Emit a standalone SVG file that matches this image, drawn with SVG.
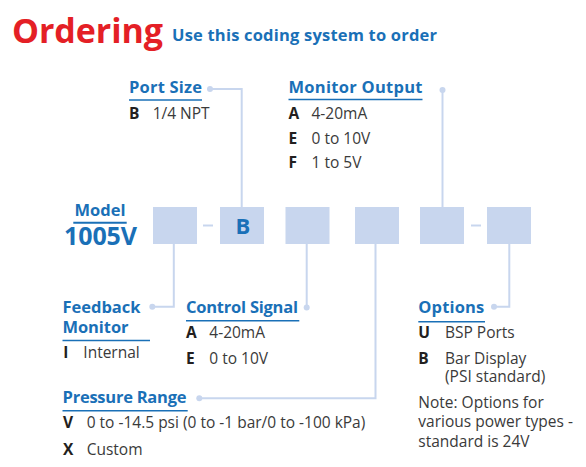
<svg xmlns="http://www.w3.org/2000/svg" width="586" height="467" viewBox="0 0 586 467">
<style>
text{font-family:"Open Sans","DejaVu Sans",sans-serif}
.h{font-size:16.5px;font-weight:700;fill:#1a70b7}
.k{font-size:15.5px;font-weight:700;fill:#231f20}
.b{font-size:15.5px;font-weight:400;fill:#3a3a3a}
.ul{stroke:#1a70b7;stroke-width:1.6;fill:none}
.box{fill:#c8d6ee}
.ln{stroke:#c8d6ee;stroke-width:2;fill:none}
.dot{fill:#c8d6ee}
</style>
<rect width="586" height="467" fill="#ffffff"/>
<g id="title">
<text x="12" y="43" textLength="151" style="font-size:34px;font-weight:700;fill:#e41f26">Ordering</text>
<text x="172" y="41" textLength="265" style="font-size:16.5px;font-weight:700;fill:#1a70b7">Use this coding system to order</text>
</g>
<g id="connectors">
<polyline class="ln" points="210,89 241.7,89 241.7,207"/>
<circle class="dot" cx="210" cy="89" r="3"/>
<line class="ln" x1="442.5" y1="90" x2="442.5" y2="207"/>
<circle class="dot" cx="442.5" cy="90" r="3"/>
<polyline class="ln" points="173.8,244 173.8,306.7 152.3,306.7"/>
<circle class="dot" cx="152.3" cy="306.7" r="3"/>
<line class="ln" x1="306.7" y1="244" x2="306.7" y2="307.5"/>
<circle class="dot" cx="306.7" cy="307.5" r="3"/>
<polyline class="ln" points="375.5,244 375.5,398.3 199.3,398.3"/>
<circle class="dot" cx="199.3" cy="398.3" r="3"/>
<polyline class="ln" points="509.3,244 509.3,306.7 494,306.7"/>
<circle class="dot" cx="494" cy="306.7" r="3"/>
<line class="ln" x1="203" y1="225.5" x2="213" y2="225.5"/>
<line class="ln" x1="471" y1="225.5" x2="481" y2="225.5"/>
</g>
<g id="model">
<text x="100" y="215.5" text-anchor="middle" style="font-size:16.5px;font-weight:700;fill:#1a70b7">Model</text>
<line class="ul" x1="73.3" y1="222.7" x2="126.7" y2="222.7" style="stroke-width:2"/>
<text x="64" y="245" textLength="73" style="font-size:25px;font-weight:700;fill:#1a70b7">1005V</text>
</g>
<g id="code-boxes">
<rect class="box" x="153" y="207" width="44" height="37"/>
<rect class="box" x="220" y="207" width="44" height="37"/>
<text x="243" y="234" text-anchor="middle" style="font-size:22px;font-weight:700;fill:#1a70b7">B</text>
<rect class="box" x="285.5" y="207" width="44" height="37"/>
<rect class="box" x="355" y="207" width="44" height="37"/>
<rect class="box" x="420" y="207" width="44" height="37"/>
<rect class="box" x="487" y="207" width="44" height="37"/>
</g>
<g id="port-size">
<text class="h" x="129" y="93" textLength="73">Port Size</text>
<line class="ul" x1="129" y1="100" x2="202" y2="100"/>
<text class="k" x="129" y="119">B</text><text class="b" x="152.7" y="119">1/4 NPT</text>
</g>
<g id="monitor-output">
<text class="h" x="288.5" y="93" textLength="134">Monitor Output</text>
<line class="ul" x1="288.5" y1="99.5" x2="422.5" y2="99.5"/>
<text class="k" x="288.5" y="119">A</text><text class="b" x="311.5" y="119">4-20mA</text>
<text class="k" x="288.5" y="144">E</text><text class="b" x="311.5" y="144">0 to 10V</text>
<text class="k" x="288.5" y="168">F</text><text class="b" x="311.5" y="168">1 to 5V</text>
</g>
<g id="feedback-monitor">
<text class="h" x="62.5" y="313.3" textLength="78">Feedback</text>
<text class="h" x="62.5" y="332.7" textLength="66">Monitor</text>
<line class="ul" x1="62.5" y1="340.5" x2="150" y2="340.5"/>
<text class="k" x="63.3" y="358.3">I</text><text class="b" x="83.3" y="358.3">Internal</text>
</g>
<g id="control-signal">
<text class="h" x="186" y="313.3" textLength="112">Control Signal</text>
<line class="ul" x1="186" y1="320.7" x2="299.3" y2="320.7"/>
<text class="k" x="186" y="338.3">A</text><text class="b" x="209.3" y="338.3">4-20mA</text>
<text class="k" x="186" y="364">E</text><text class="b" x="209.3" y="364">0 to 10V</text>
</g>
<g id="pressure-range">
<text class="h" x="62.5" y="402.7" textLength="124">Pressure Range</text>
<line class="ul" x1="62.5" y1="410.7" x2="187.7" y2="410.7"/>
<text class="k" x="63" y="428.3">V</text><text class="b" x="86.7" y="428.3">0 to -14.5 psi (0 to -1 bar/0 to -100 kPa)</text>
<text class="k" x="63" y="455">X</text><text class="b" x="86.7" y="455">Custom</text>
</g>
<g id="options">
<text class="h" x="418.3" y="313.3" textLength="66">Options</text>
<line class="ul" x1="418.3" y1="321.7" x2="485" y2="321.7"/>
<text class="k" x="418.3" y="338.3">U</text><text class="b" x="445" y="338.3">BSP Ports</text>
<text class="k" x="418.3" y="364">B</text><text class="b" x="445" y="364">Bar Display</text>
<text class="b" x="445" y="381.7">(PSI standard)</text>
<text class="b" x="418.3" y="408.3">Note: Options for</text>
<text class="b" x="418.3" y="426.7">various power types -</text>
<text class="b" x="418.3" y="446.7">standard is 24V</text>
</g>
</svg>
